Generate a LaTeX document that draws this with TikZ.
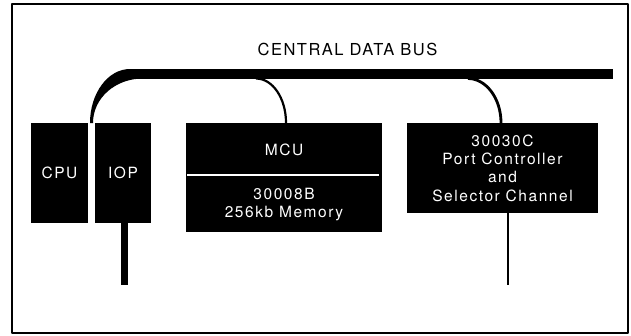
\documentclass[tikz,border=0pt]{standalone}
\usepackage{fontspec}
\setmainfont{TeX Gyre Heros}
\newcommand{\blockfont}{\fontsize{15.5}{18.3}\selectfont\addfontfeature{LetterSpace=10}}
\newcommand{\busfont}{\fontsize{16.5}{19}\selectfont\addfontfeature{LetterSpace=9}}
\begin{document}
\begin{tikzpicture}[x=1pt,y=-1pt, line join=round,
	box/.style={fill=black,text=white,inner sep=0pt,font=\blockfont},
	bus/.style={line width=9.5pt},
	branch/.style={line width=2.2pt}]
		\useasboundingbox (0,0) rectangle (631,335);
		\draw[line width=1.6pt] (12,4) rectangle (628,333);
		\node[font=\busfont] (title) at (347.5,49) {CENTRAL DATA BUS};
		%	boxes
		\foreach \n/\x/\t in {cpu/59.5/CPU,iop/123/IOP}
		\node[box,minimum width=56.5pt,minimum height=100pt] (\n) at (\x,173) {\t};
		\node[box,minimum width=196pt,minimum height=109pt] (mcu) at (284,177.5) {};
		\node[text=white,font=\blockfont] (mcuname) at (284,149.5) {MCU};
		\node[text=white,font=\blockfont,align=center] (mcumem) at (284,204.5) {30008B\\256kb Memory};
		\draw[white,line width=1.2pt] (187,175)--(379,175);
		\node[box,minimum width=191pt,minimum height=90pt,align=center] (pc) at (502.5,168)
			{30030C\\Port Controller\\and\\Selector Channel};
		%	bus
		\coordinate (busL) at (130,73.75);
		\coordinate (busR) at (613,73.75);
		\draw[bus] (busL)--(busR);
		\coordinate (join) at (91.5,123);
		\fill (130,69) .. controls (107.9,69) and (90,93.2) .. ([xshift=-1.5pt]join)
			-- ([xshift=1.5pt]join) .. controls (93,98) and (115.4,78.5) .. (143,78.5) -- cycle;
		\coordinate (tapM) at (256,78.5);
		\draw[branch] (tapM) .. controls (272.6,78.5) and (286,98.2) .. ([xshift=2pt]mcu.north);
		\coordinate (tapP) at (468,78.5);
		\draw[branch,line width=2.8pt] (tapP) .. controls (486,78.5) and (501,98.2) .. ([xshift=-1.5pt]pc.north);
		%	stems
		\draw[line width=7pt] ([xshift=1.5pt]iop.south)--++(0,62);
		\coordinate (pcEnd) at (508,285);
		\draw[line width=2pt] (pcEnd |- pc.south)--(pcEnd);
\end{tikzpicture}
\end{document}
